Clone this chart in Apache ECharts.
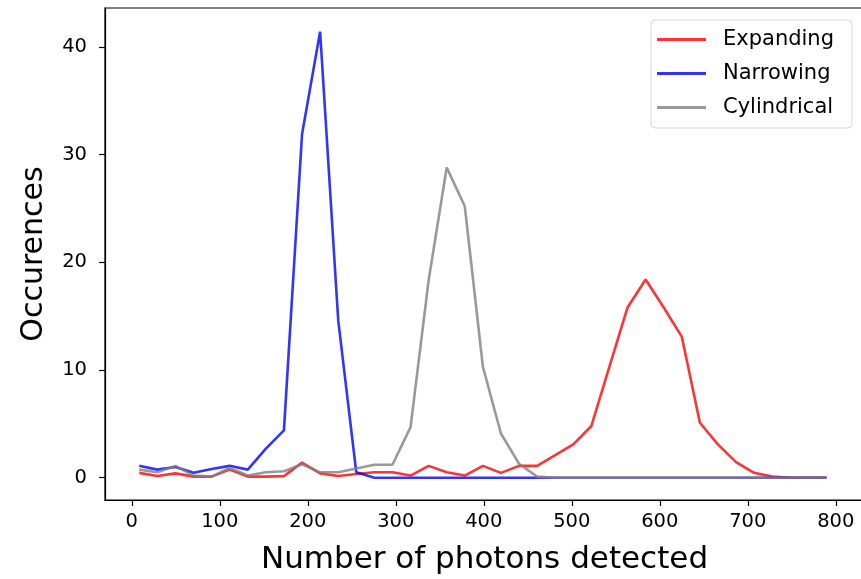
<!DOCTYPE html>
<html style="height: 100%">
  <head>
    <meta charset="UTF-8" />
    <title>Occurences vs photons</title>
    <script src="https://cdn.jsdelivr.net/npm/echarts@6/dist/echarts.min.js"></script>
  </head>
  <body style="height: 100%; margin: 0; background: #fff">
    <div id="main" style="width: 861px; height: 579px"></div>
    <script>
      const chart = echarts.init(document.getElementById('main'))

      // bin centres (number of photons)
      const photons = [
        8.5, 29, 49.6, 70.2, 90.7, 111.3, 131.8, 152.4, 172.9, 193.5,
        214, 234.6, 255.1, 275.7, 296.2, 316.8, 337.3, 357.9, 378.4, 399,
        419.5, 440, 460.6, 481.2, 501.7, 522.3, 542.8, 563.4, 583.9, 604.5,
        625, 645.6, 666.1, 686.7, 707.2, 727.8, 748.3, 768.9, 789.4,
      ]

      const expanding = [
        0.45, 0.15, 0.4, 0.1, 0.1, 0.75, 0.1, 0.1, 0.15, 1.4,
        0.4, 0.15, 0.35, 0.5, 0.5, 0.2, 1.1, 0.5, 0.2, 1.1,
        0.45, 1.1, 1.1, 2.1, 3.1, 4.8, 10.3, 15.8, 18.4, 15.8,
        13.1, 5.1, 3.1, 1.45, 0.45, 0.1, 0, 0, 0,
      ]
      const narrowing = [
        1.1, 0.75, 1.0, 0.45, 0.8, 1.1, 0.75, 2.7, 4.4, 31.9,
        41.4, 14.6, 0.5, 0, 0, 0, 0, 0, 0, 0,
        0, 0, 0, 0, 0, 0, 0, 0, 0, 0,
        0, 0, 0, 0, 0, 0, 0, 0, 0,
      ]
      const cylindrical = [
        0.75, 0.5, 1.1, 0.2, 0.1, 0.9, 0.2, 0.5, 0.6, 1.25,
        0.5, 0.5, 0.85, 1.2, 1.2, 4.7, 18.3, 28.8, 25.2, 10.3,
        4.1, 1.3, 0.1, 0, 0, 0, 0, 0, 0, 0,
        0, 0, 0, 0, 0, 0, 0, 0, 0,
      ]

      const xTicks = [0, 100, 200, 300, 400, 500, 600, 700, 800]
      const yTicks = [0, 10, 20, 30, 40]

      const pairs = (vals) => photons.map((x, i) => [x, vals[i]])

      const font = 'DejaVu Sans'

      const makeLine = (name, data, color) => ({
        name,
        type: 'line',
        data: pairs(data),
        symbol: 'none',
        color,
        lineStyle: { width: 2.6, color },
        z: 2,
      })

      const option = {
        animation: false,
        backgroundColor: '#fff',
        textStyle: { fontFamily: font },
        grid: {
          left: 105,
          top: 8,
          right: -3, // right spine falls just outside the picture
          bottom: 79,
          show: true,
          borderColor: '#000',
          borderWidth: 1.2,
          outerBoundsMode: 'none',
        },
        legend: {
          orient: 'vertical',
          left: 651,
          top: 20,
          padding: [9, 18, 10, 6],
          itemGap: 13,
          itemWidth: 49,
          itemHeight: 3,
          icon: 'rect',
          backgroundColor: 'rgba(255,255,255,0.8)',
          borderColor: '#d6d6d6',
          borderWidth: 1,
          borderRadius: 4,
          textStyle: {
            fontFamily: font,
            fontSize: 21,
            color: '#000',
            padding: [0, 0, 0, 12],
          },
        },
        xAxis: {
          type: 'value',
          min: -30.45,
          max: 832.1,
          name: 'Number of photons detected',
          nameLocation: 'middle',
          nameGap: 44,
          nameTextStyle: { fontFamily: font, fontSize: 31, color: '#000' },
          axisLine: { onZero: false, lineStyle: { color: '#000', width: 1.2 } },
          axisTick: {
            show: true,
            length: 6,
            customValues: xTicks,
            lineStyle: { color: '#000', width: 1.2 },
          },
          axisLabel: {
            customValues: xTicks,
            margin: 12,
            fontFamily: font,
            fontSize: 19.5,
            color: '#000',
          },
          splitLine: { show: false },
        },
        yAxis: {
          type: 'value',
          min: -2.07,
          max: 43.6,
          name: 'Occurences',
          nameLocation: 'middle',
          nameGap: 56,
          nameTextStyle: { fontFamily: font, fontSize: 30, color: '#000' },
          axisLine: { show: true, onZero: false, lineStyle: { color: '#000', width: 1.2 } },
          axisTick: {
            show: true,
            length: 6,
            customValues: yTicks,
            lineStyle: { color: '#000', width: 1.2 },
          },
          axisLabel: {
            customValues: yTicks,
            margin: 18,
            fontFamily: font,
            fontSize: 19.5,
            color: '#000',
          },
          splitLine: { show: false },
        },
        series: [
          makeLine('Expanding', expanding, 'rgba(255,0,0,0.8)'),
          makeLine('Narrowing', narrowing, 'rgba(0,0,255,0.8)'),
          makeLine('Cylindrical', cylindrical, 'rgba(128,128,128,0.8)'),
        ],
      }

      chart.setOption(option)
    </script>
  </body>
</html>
